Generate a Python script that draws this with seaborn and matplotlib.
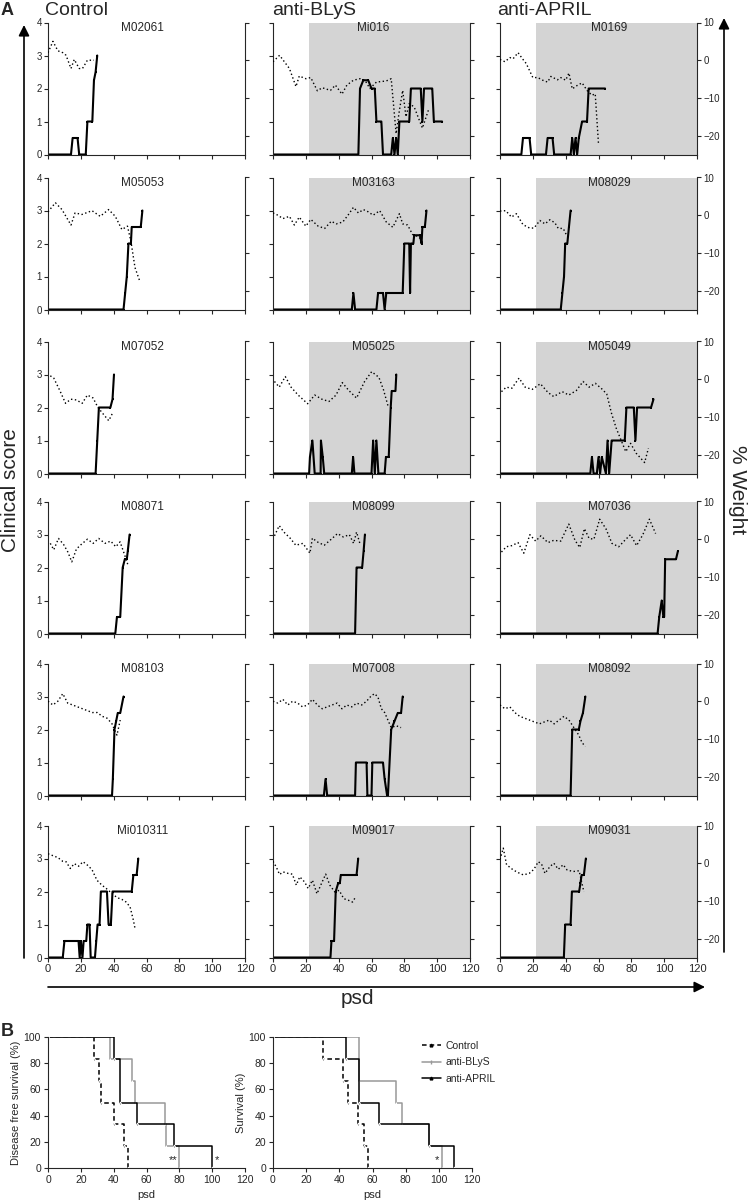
import matplotlib.pyplot as plt
import seaborn as sns
from matplotlib.lines import Line2D

# ---- clinical score (day, score) and % weight (day, weight) per mouse ----
# Control
M02061_day = [0, 14, 15, 18, 19, 23, 24, 27, 28, 29, 30]
M02061_score = [0, 0, 0.5, 0.5, 0, 0, 1, 1, 2.25, 2.5, 3]
M02061_wday = [0, 3, 6, 9, 11, 14, 16, 19, 21, 24, 28]
M02061_weight = [2, 5, 2.5, 2, 1.3, -2.2, 0.2, -2.2, -2.2, 0, 0]

M05053_day = [0, 46, 47, 48, 49, 50.5, 51, 56.5, 57.5]
M05053_score = [0, 0, 0.5, 1, 2, 2, 2.5, 2.5, 3]
M05053_wday = [0, 4.5, 8.5, 14, 16.5, 20.7, 26.8, 31.8, 36.9, 41, 45, 48.4, 50.5, 53, 56]
M05053_weight = [0.9, 3.3, 1.5, -2.6, 0.6, 0.2, 1.2, -0.3, 1.5, -0.3, -3.8, -2.9, -6.9, -13.9, -17.6]

M07052_day = [0, 29, 30, 31, 38, 39.3, 40.2]
M07052_score = [0, 0, 1, 2, 2, 2.25, 3]
M07052_wday = [1.4, 3.5, 7.2, 10.7, 13.9, 17.3, 20.8, 24, 27.5, 30.3, 33.2, 37, 39.3]
M07052_weight = [0.9, 0.3, -3, -6.4, -5.3, -5.5, -6.4, -4.2, -5, -7.4, -9, -11, -9]

M08071_day = [0, 41, 42, 44, 45.5, 46.8, 48, 48.6, 49.7]
M08071_score = [0, 0, 0.5, 0.5, 2, 2.25, 2.25, 2.5, 3]
M08071_wday = [1.4, 3.5, 6.4, 9.5, 12.1, 14.5, 17.3, 20.2, 24, 27.5, 30.9, 34.7, 38.2, 41.3, 43.9, 46.8, 48.6]
M08071_weight = [-1.1, -2.8, 0.2, -1.4, -3.4, -6, -2.6, -1.4, 0, -1.1, 0.2, -1.1, -0.5, -2, -0.7, -4.3, -6.7]

M08103_day = [0, 39, 39.5, 40.5, 41.5, 42.5, 44, 46]
M08103_score = [0, 0, 0.5, 2, 2.25, 2.5, 2.5, 3]
M08103_wday = [0, 3, 6, 9, 12, 15, 18, 21, 24, 27, 30, 33, 36, 39, 42, 44]
M08103_weight = [0, -1, 0, 2, -0.5, -1, -1.5, -2, -2.5, -3, -3, -4, -4.5, -6, -9, -5]

Mi010311_day = [0, 9, 10, 18.6, 19.3, 20, 21, 21.7, 23.3, 24, 25.3, 26, 28.6, 29.4, 30.2, 31.4,
                32.2, 35.9, 36.9, 38.3, 39.3, 51, 52, 54, 55]
Mi010311_score = [0, 0, 0.5, 0.5, 0, 0.5, 0, 0.5, 0.5, 1, 1, 0, 0, 0.5, 1, 1,
                  2, 2, 1, 1, 2, 2, 2.5, 2.5, 3]
Mi010311_wday = [0, 3, 6, 9, 11, 13.6, 16, 18.6, 21.3, 24, 26.8, 29.8, 32.8, 35.5, 38.9, 42, 45, 47.6, 50, 52, 53]
Mi010311_weight = [2.5, 2, 1.5, 0.5, 0.4, -1.4, -0.1, -0.8, 0.4, -0.5, -1.7, -4.5, -5.8, -6.7, -8, -9.1,
                   -9.6, -10.3, -11.6, -15.1, -17.3]

# anti-BLyS
Mi016_day = [0, 52, 53, 55, 58, 60, 62, 63, 66, 67, 72, 73, 74, 75, 76, 77, 83, 84, 90, 91, 92, 97, 98, 103]
Mi016_score = [0, 0, 2, 2.25, 2.25, 2, 2, 1, 1, 0, 0, 0.5, 0, 0.5, 0, 1, 1, 2, 2, 1, 2, 2, 1, 1]
Mi016_wday = [0, 4, 10, 14, 16, 20, 23, 27, 30, 35, 38, 42, 45, 49, 53, 56, 59, 63, 69, 72,
              75, 77, 79, 81, 83, 86, 91, 95]
Mi016_weight = [-0.4, 1.3, -2.2, -7, -4.2, -4.9, -4.6, -8.1, -7.3, -8, -6.6, -9, -6.6, -5.3, -4.9, -5.3,
                -7.5, -5.8, -5.5, -4.9, -19.5, -13.3, -8, -15, -11.5, -12.4, -18, -12.8]

M03163_day = [0, 48, 49, 50, 63, 64, 67, 68, 69, 79, 80, 83, 83.5, 84, 85.5, 86, 89.5, 90.5, 91, 92.5, 93.5]
M03163_score = [0, 0, 0.5, 0, 0, 0.5, 0.5, 0, 0.5, 0.5, 2, 2, 0.5, 2, 2, 2.25, 2.25, 2, 2.5, 2.5, 3]
M03163_wday = [0, 3, 6, 10, 13, 16, 20, 23, 27.5, 31.5, 35.5, 38.5, 42.5, 46, 49, 52, 55, 58, 61,
               65, 69, 73, 77, 79, 82, 85, 88, 90.5]
M03163_weight = [0.6, 0, -0.9, -0.3, -2.6, -0.5, -2.9, -1.1, -2.9, -3.5, -1.6, -2.3, -1.8, 0.2, 2.1, 0.6,
                 1.5, 0.9, 0, 1.2, -1.8, -3.2, 0.4, -2.3, -2.6, -5.1, -5.6, -6.4]

M05025_day = [0, 22, 22.5, 24, 25.4, 29, 29.2, 30.3, 31.2, 48, 48.8, 49.6, 60, 61, 62, 63, 64.2,
              68, 68.8, 70.5, 71.7, 72.3, 74.6, 75.1]
M05025_score = [0, 0, 0.5, 1, 0, 0, 1, 0.5, 0, 0, 0.5, 0, 0, 1, 0, 1, 0, 0, 0.5, 0.5, 2, 2.5, 2.5, 3]
M05025_wday = [0.9, 3.8, 7.5, 11, 15.3, 21.1, 25.4, 29.8, 34.1, 38.4, 42.2, 46.2, 50.9, 55.8, 60.1, 64.5, 67.3, 70.2]
M05025_weight = [-0.6, -2.1, 0.7, -2.1, -4.2, -6.5, -4.2, -5.3, -5.9, -4.2, -0.9, -3, -5, -0.6, 2, 0.5, -2.8, -7.3]

M08099_day = [0, 50, 50.9, 54.3, 55.2, 56]
M08099_score = [0, 0, 2, 2, 2.5, 3]
M08099_wday = [0.9, 3.8, 6.6, 10.4, 13.9, 18.2, 22.5, 24, 26.9, 31.2, 35.5, 39.3, 42.8, 46.5, 49.1, 50.9, 52.9]
M08099_weight = [0.9, 3.6, 1.9, 0.3, -1.6, -1.1, -3.7, 0.3, -0.7, -1.6, 0, 1.5, 0.6, 1.2, -1.1, 1.9, -1.1]

M07008_day = [0, 31, 32, 33, 50, 50.5, 57, 57.5, 60, 60.5, 67, 68, 69.5, 70, 72, 74, 76, 78, 79]
M07008_score = [0, 0, 0.5, 0, 0, 1, 1, 0, 0, 1, 1, 0.5, 0, 0, 2, 2.25, 2.5, 2.5, 3]
M07008_wday = [0, 3, 6, 9, 12, 15, 18, 21, 24, 27, 30, 33, 36, 39, 42, 45, 48, 51, 54, 57,
               60, 62, 64, 66, 68, 70, 72, 75, 78]
M07008_weight = [0, -0.5, 0.5, -1, 0, -0.5, -1.5, -1, 0.5, -1, -2, -1.5, -1, -0.5, -2, -1, -1.5, -0.5,
                 -1, 0, 1.5, 2, 1, -2, -3, -5, -7, -6.5, -7]

M09017_day = [0, 35, 35.6, 37.2, 38.2, 39.7, 40.7, 41.3, 50.9, 51.9]
M09017_score = [0, 0, 0.5, 0.5, 2, 2.25, 2.25, 2.5, 2.5, 3]
M09017_wday = [0, 2, 4, 6.1, 9.2, 11.8, 14.2, 16.3, 19.3, 21.4, 24, 26.8, 29.5, 32.1, 34.6, 37.6,
               40.3, 43.1, 45.8, 48.4, 50.4]
M09017_weight = [0.5, -1, -3, -2.3, -2.7, -2.9, -5.8, -3.6, -5, -6.7, -4.5, -8.1, -5.4, -2.9, -5.8, -7.6,
                 -7.2, -9.4, -9.8, -10.3, -8.9]

# anti-APRIL
M0169_day = [0, 13, 14, 18, 19, 28, 29, 32, 33, 43, 44, 45, 46, 47, 48, 50, 53, 54, 64]
M0169_score = [0, 0, 0.5, 0.5, 0, 0, 0.5, 0.5, 0, 0, 0.5, 0, 0.5, 0, 0.5, 1, 1, 2, 2]
M0169_wday = [0, 3, 6, 8, 11, 14, 16, 20, 23, 26, 29, 31, 35, 37, 40, 42, 44, 47, 50, 53, 56, 58, 60]
M0169_weight = [0.2, -0.4, 0.7, 0.4, 2, 0.2, -0.9, -4.6, -4.6, -5.3, -5.8, -4.3, -5.2, -4.6, -5.3, -3.4,
                -7.6, -6.7, -6, -8, -9.3, -8.9, -22.2]

M08029_day = [0, 37, 38, 39, 39.7, 41, 42, 43]
M08029_score = [0, 0, 0.5, 1, 2, 2, 2.5, 3]
M08029_wday = [0, 3.5, 7, 10, 14, 18, 20.7, 24.3, 27.4, 30.4, 33.4, 35.5, 38.5, 40.9]
M08029_weight = [1.1, 1.2, -0.5, 0.4, -2.5, -3.4, -3.4, -1.4, -2.3, -1.2, -2, -3.5, -3.5, -5.6]

M05049_day = [0, 55, 56, 57, 59, 60, 61, 62, 64.5, 65.5, 66.5, 68, 76, 77, 81.5, 82.5, 83.5, 92, 93.5]
M05049_score = [0, 0, 0.5, 0, 0, 0.5, 0, 0.5, 0, 1, 0, 1, 1, 2, 2, 1, 2, 2, 2.25]
M05049_wday = [0.9, 3.8, 7.2, 11.6, 15.3, 19.6, 24.6, 29.2, 32.7, 37.9, 41.9, 46.5, 50.6, 54.3, 58.1,
               62.1, 65, 67.9, 70.8, 73.7, 76.6, 79.5, 82.9, 85.2, 88.1, 90.4]
M05049_weight = [-3.3, -2.1, -2.4, 0.3, -2.1, -2.7, -1.2, -3.5, -4.6, -3.3, -4.2, -3.0, -0.6, -2.1, -1.1,
                 -2.6, -3.9, -9, -13, -16.1, -19.2, -17, -19.6, -20.7, -22.1, -18.3]

M07036_day = [0, 96, 97, 98.5, 99.5, 100, 100.6, 107.2, 108.4]
M07036_score = [0, 0, 0.5, 1, 0.5, 0.5, 2.25, 2.25, 2.5]
M07036_wday = [0.9, 3.8, 7.2, 11, 14.5, 18.2, 21.7, 24.9, 29.2, 32.7, 37, 41.9, 45.7, 48.6, 51.4, 54.3,
               57.2, 60.7, 64.5, 68.2, 72.3, 76, 79.5, 83.2, 87, 91, 94.8]
M07036_weight = [-3.4, -2, -1.7, -0.9, -3.7, 1.2, -0.5, 0.9, -0.9, -0.3, -0.5, 4, -0.3, -2.2, 2.8, 0.2,
                 0, 5.3, 2.8, -1.1, -2, -0.3, 1.2, -1.7, 1.2, 5.3, 1.5]

M08092_day = [0, 43, 44, 48, 49, 50.5, 52]
M08092_score = [0, 0, 2, 2, 2.25, 2.5, 3]
M08092_wday = [0, 3, 6, 9, 12, 15, 18, 21, 24, 27, 30, 33, 36, 39, 42, 45, 48, 50, 52]
M08092_weight = [-1, -2, -1.5, -3, -4, -4.5, -5, -5.5, -6, -5.5, -5, -6, -5, -4, -5, -7, -9, -11, -12]

M09031_day = [0, 38.9, 39.7, 43, 43.8, 48.2, 49, 49.7, 51.1, 52.3]
M09031_score = [0, 0, 1, 1, 2, 2, 2.25, 2.5, 2.5, 3]
M09031_wday = [0, 2, 4, 8.1, 11.1, 14.2, 17.8, 20.7, 23.3, 25.3, 27.4, 30.4, 32.8, 35.5, 38.5, 40.9,
               44.6, 48.2, 49.7, 51.1]
M09031_weight = [1, 4, -0.4, -1.8, -2.5, -3.1, -2.7, -1.6, 0.4, -0.2, -2.7, -0.9, 0, -1.6, -0.4, -1.8,
                 -2.2, -2, -4.9, -7.6]

control_mice = [("M02061", M02061_day, M02061_score, M02061_wday, M02061_weight),
                ("M05053", M05053_day, M05053_score, M05053_wday, M05053_weight),
                ("M07052", M07052_day, M07052_score, M07052_wday, M07052_weight),
                ("M08071", M08071_day, M08071_score, M08071_wday, M08071_weight),
                ("M08103", M08103_day, M08103_score, M08103_wday, M08103_weight),
                ("Mi010311", Mi010311_day, Mi010311_score, Mi010311_wday, Mi010311_weight)]
blys_mice = [("Mi016", Mi016_day, Mi016_score, Mi016_wday, Mi016_weight),
             ("M03163", M03163_day, M03163_score, M03163_wday, M03163_weight),
             ("M05025", M05025_day, M05025_score, M05025_wday, M05025_weight),
             ("M08099", M08099_day, M08099_score, M08099_wday, M08099_weight),
             ("M07008", M07008_day, M07008_score, M07008_wday, M07008_weight),
             ("M09017", M09017_day, M09017_score, M09017_wday, M09017_weight)]
april_mice = [("M0169", M0169_day, M0169_score, M0169_wday, M0169_weight),
              ("M08029", M08029_day, M08029_score, M08029_wday, M08029_weight),
              ("M05049", M05049_day, M05049_score, M05049_wday, M05049_weight),
              ("M07036", M07036_day, M07036_score, M07036_wday, M07036_weight),
              ("M08092", M08092_day, M08092_score, M08092_wday, M08092_weight),
              ("M09031", M09031_day, M09031_score, M09031_wday, M09031_weight)]
group_titles = ["Control", "anti-BLyS", "anti-APRIL"]

# ---- Kaplan-Meier steps (psd, %) ----
dfs_ctrl_t = [0, 28, 31, 32, 40, 46, 49]
dfs_ctrl_s = [100, 83.3, 66.7, 50, 33.3, 16.7, 0]
dfs_blys_t = [0, 38, 51, 53, 71, 72, 80]
dfs_blys_s = [100, 83.3, 66.7, 50, 33.3, 16.7, 0]
dfs_april_t = [0, 40, 44, 54, 77, 100]
dfs_april_s = [100, 83.3, 50, 33.3, 16.7, 0]

surv_ctrl_t = [0, 30, 42, 45, 51, 55, 57]
surv_ctrl_s = [100, 83.3, 66.7, 50, 33.3, 16.7, 0]
surv_blys_t = [0, 52, 74, 78, 94, 102]
surv_blys_s = [100, 66.7, 50, 33.3, 16.7, 0]
surv_april_t = [0, 44, 52, 64, 94, 109]
surv_april_s = [100, 83.3, 50, 33.3, 16.7, 0]

sns.set_style('ticks')
plt.rcParams['font.family'] = ['Liberation Sans', 'DejaVu Sans']
plt.rcParams['axes.linewidth'] = 0.8

W, H = 748, 1202
fig = plt.figure(figsize=(W / 100, H / 100), dpi=100)


def px_axes(x0, y0, w, h):
    return fig.add_axes([x0 / W, 1 - (y0 + h) / H, w / W, h / H])


col_x = [48, 273, 500]
row_y = [22.5, 177.5, 341.5, 501.5, 663.5, 825.5]
pw, ph = 197, 132
name_x = [0.48, 0.51, 0.555]

for c, mice in enumerate([control_mice, blys_mice, april_mice]):
    for r, (name, day, score, wday, weight) in enumerate(mice):
        ax = px_axes(col_x[c], row_y[r], pw, ph)
        if c > 0:
            ax.axvspan(22, 120, color='#d4d4d4', lw=0, zorder=0)
        ax2 = ax.twinx()
        sns.lineplot(x=wday, y=weight, ax=ax2, color='black', linewidth=1.0,
                     linestyle=(0, (1, 1.8)), estimator=None, sort=False)
        sns.lineplot(x=day, y=score, ax=ax, color='black', linewidth=1.5,
                     marker='s', markersize=1.8, markeredgewidth=0, estimator=None, sort=False)
        ax.set_xlim(0, 120)
        ax.set_ylim(0, 4)
        ax2.set_ylim(-25, 10)
        ax.set_xticks(range(0, 121, 20))
        ax.set_yticks(range(5))
        ax2.set_yticks([10, 0, -10, -20])
        ax.set_xlabel('')
        ax.set_ylabel('')
        ax2.set_ylabel('')
        if r < 5:
            ax.set_xticklabels([])
        if c > 0:
            ax.set_yticklabels([])
        if c < 2:
            ax2.set_yticklabels([])
        for s in ['top', 'right']:
            ax.spines[s].set_visible(False)
        for s in ['top', 'left', 'bottom']:
            ax2.spines[s].set_visible(False)
        ax.tick_params(axis='y', length=3, width=0.8, labelsize=7, pad=1.5)
        ax.tick_params(axis='x', length=3, width=0.8, labelsize=8, pad=2)
        ax2.tick_params(axis='y', length=3, width=0.8, labelsize=7, pad=1.5)
        ax.text(name_x[c], 0.955, name, transform=ax.transAxes, ha='center', va='center', fontsize=8.5)

# ---- panel B ----
axL = px_axes(48, 1037, 197, 131)
axR = px_axes(273, 1037, 199, 131)
styles = [dict(color='black', linestyle=(0, (3, 2)), marker='^'),
          dict(color='#999999', linestyle='-', marker='|'),
          dict(color='black', linestyle='-', marker='^')]
for ax, sets, ylab in [(axL, [(dfs_ctrl_t, dfs_ctrl_s), (dfs_blys_t, dfs_blys_s), (dfs_april_t, dfs_april_s)],
                        'Disease free survival (%)'),
                       (axR, [(surv_ctrl_t, surv_ctrl_s), (surv_blys_t, surv_blys_s), (surv_april_t, surv_april_s)],
                        'Survival (%)')]:
    for (t, s), st in zip(sets, styles):
        sns.lineplot(x=t, y=s, ax=ax, drawstyle='steps-post', linewidth=1.1, markersize=2,
                     estimator=None, sort=False, **st)
    ax.set_xlim(0, 120)
    ax.set_ylim(0, 100)
    ax.set_xticks(range(0, 121, 20))
    ax.set_yticks(range(0, 101, 20))
    ax.set_xlabel('psd', fontsize=8)
    ax.set_ylabel(ylab, fontsize=8, labelpad=2)
    ax.tick_params(length=3, width=0.8, labelsize=7.5, pad=2)
    sns.despine(ax=ax)

axL.text(76, 2, '**', ha='center', va='bottom', fontsize=8)
axL.text(103, 2, '*', ha='center', va='bottom', fontsize=8)
axR.text(99, 2, '*', ha='center', va='bottom', fontsize=8)

handles = [Line2D([], [], color='black', linestyle=(0, (3, 2)), marker='^', markersize=2, lw=1.1),
           Line2D([], [], color='#999999', marker='|', markersize=2.5, lw=1.1),
           Line2D([], [], color='black', marker='^', markersize=2, lw=1.1)]
fig.legend(handles, group_titles, loc='upper left', bbox_to_anchor=(422 / W, 1 - 1041 / H),
           frameon=False, fontsize=7.5, handlelength=1.8, handletextpad=0.5, borderpad=0,
           borderaxespad=0, labelspacing=0.6)

# ---- overlay: arrows and big labels ----
ov = fig.add_axes([0, 0, 1, 1])
ov.set_xlim(0, W)
ov.set_ylim(H, 0)
ov.axis('off')
arrow = dict(arrowstyle='-|>', lw=1.2, color='black', mutation_scale=16, shrinkA=0, shrinkB=0)
ov.annotate('', xy=(24, 25), xytext=(24, 958), arrowprops=arrow)
ov.annotate('', xy=(724, 18), xytext=(724, 952), arrowprops=arrow)
ov.annotate('', xy=(705, 987), xytext=(48, 987), arrowprops=arrow)
ov.text(11, 490, 'Clinical score', rotation=90, ha='center', va='center', fontsize=15)
ov.text(738, 490, '% Weight', rotation=270, ha='center', va='center', fontsize=15)
ov.text(357, 998, 'psd', ha='center', va='center', fontsize=15)
ov.text(1, 15, 'A', fontsize=13, fontweight='bold')
ov.text(1, 1036, 'B', fontsize=13, fontweight='bold')
for x, t in zip([45, 272, 497], group_titles):
    ov.text(x, 15, t, fontsize=14)

fig.savefig('out.png', dpi=100)
